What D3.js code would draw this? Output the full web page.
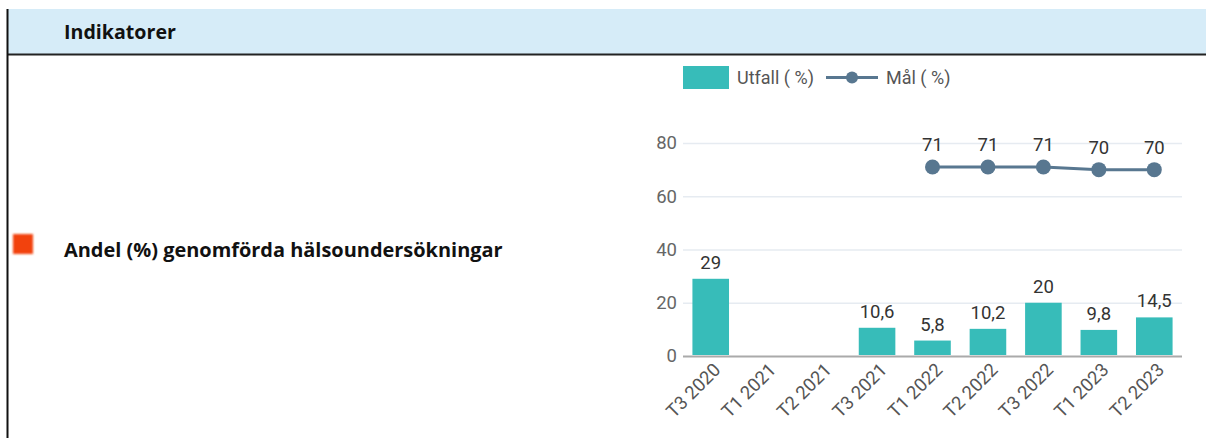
<!DOCTYPE html>
<html>
<head>
<meta charset="utf-8">
<script src="https://cdn.jsdelivr.net/npm/d3@7"></script>
<style>
html,body{margin:0;padding:0;background:#fff;}
svg{display:block;}
</style>
</head>
<body>
<svg id="c" width="1206" height="438"></svg>
<script>
const categories = ["T3 2020","T1 2021","T2 2021","T3 2021","T1 2022","T2 2022","T3 2022","T1 2023","T2 2023"];
const utfall = [29, null, null, 10.6, 5.8, 10.2, 20, 9.8, 14.5];
const mal = [null, null, null, null, 71, 71, 71, 70, 70];
const yTicks = [0, 20, 40, 60, 80];
const headerTitle = "Indikatorer";
const indicatorName = "Andel (%) genomförda hälsoundersökningar";
const legendLabels = ["Utfall ( %)", "Mål ( %)"];

const fmt = v => String(v).replace(".", ",");
const svg = d3.select("#c");

// header band
svg.append("rect").attr("x", 7).attr("y", 9).attr("width", 1199).attr("height", 45).attr("fill", "#d6ecf8");
svg.append("line").attr("x1", 7).attr("x2", 1206).attr("y1", 54.5).attr("y2", 54.5).attr("stroke", "#222").attr("stroke-width", 2);
svg.append("line").attr("x1", 7.5).attr("x2", 7.5).attr("y1", 9).attr("y2", 438).attr("stroke", "#111").attr("stroke-width", 2);

function fitText(sel, w) {
  const l = sel.node().getComputedTextLength();
  const fs = parseFloat(sel.attr("font-size"));
  sel.attr("font-size", fs * w / l);
}
const t1 = svg.append("text").attr("x", 64).attr("y", 39).attr("font-family", "'Open Sans', sans-serif")
  .attr("font-weight", "bold").attr("font-size", 16).attr("fill", "#111").text(headerTitle);
fitText(t1, 112);

// indicator
const defs = svg.append("defs");
defs.append("filter").attr("id", "blur").append("feGaussianBlur").attr("stdDeviation", 0.8);
svg.append("rect").attr("x", 13).attr("y", 234).attr("width", 20).attr("height", 20).attr("fill", "#f2420f").attr("filter", "url(#blur)");
const t2 = svg.append("text").attr("x", 64).attr("y", 257).attr("font-family", "'Open Sans', sans-serif")
  .attr("font-weight", "bold").attr("font-size", 16).attr("fill", "#111").text(indicatorName);
fitText(t2, 439);

// chart
const x = d3.scaleBand().domain(categories).range([683, 1182]).paddingInner(0.34).paddingOuter(0.17);
const y = d3.scaleLinear().domain([0, 80]).range([356, 143]);
const teal = "#37bcb9", navy = "#587790";
const FONT = "Roboto, sans-serif";

const g = svg.append("g");
// gridlines
g.append("g").attr("transform", "translate(683,0)")
  .call(d3.axisLeft(y).tickValues(yTicks).tickSize(-499).tickFormat(d => d))
  .call(a => a.select(".domain").remove())
  .call(a => a.selectAll(".tick line").attr("stroke", d => d === 0 ? "#aaa" : "#e6ebf1").attr("stroke-width", d => d === 0 ? 2 : 1.5))
  .call(a => a.selectAll(".tick text").attr("x", -6).attr("font-family", FONT).attr("font-size", 18.5).attr("fill", "#666"));

// bars
const bd = categories.map((c, i) => ({c, v: utfall[i]})).filter(d => d.v != null);
g.selectAll(".bar").data(bd).join("rect").attr("class", "bar")
  .attr("x", d => x(d.c)).attr("width", x.bandwidth())
  .attr("y", d => y(d.v)).attr("height", d => y(0) - y(d.v) - 1)
  .attr("fill", teal);
g.selectAll(".blab").data(bd).join("text").attr("class", "blab")
  .attr("x", d => x(d.c) + x.bandwidth() / 2).attr("y", d => y(d.v) - 10)
  .attr("text-anchor", "middle").attr("font-family", FONT).attr("font-size", 18.5).attr("fill", "#333")
  .text(d => fmt(d.v));

// x axis
g.append("g").attr("transform", "translate(0,357)")
  .call(d3.axisBottom(x).tickSize(0).tickPadding(0))
  .call(a => a.select(".domain").remove())
  .call(a => a.selectAll(".tick text").attr("text-anchor", "end").attr("dy", 0).attr("y", 0)
    .attr("transform", "translate(11,14) rotate(-45)")
    .attr("font-family", FONT).attr("font-size", 18.5).attr("fill", "#555"));

// line
const ld = categories.map((c, i) => ({c, v: mal[i]})).filter(d => d.v != null);
const cx = d => x(d.c) + x.bandwidth() / 2;
g.append("path").datum(ld).attr("fill", "none").attr("stroke", navy).attr("stroke-width", 3)
  .attr("d", d3.line().x(cx).y(d => y(d.v)));
g.selectAll(".dot").data(ld).join("circle").attr("cx", cx).attr("cy", d => y(d.v)).attr("r", 7.5).attr("fill", navy);
g.selectAll(".llab").data(ld).join("text")
  .attr("x", cx).attr("y", d => y(d.v) - 16)
  .attr("text-anchor", "middle").attr("font-family", FONT).attr("font-size", 18.5).attr("fill", "#333")
  .text(d => fmt(d.v));

// legend
const lg = svg.append("g");
lg.append("rect").attr("x", 683).attr("y", 66).attr("width", 46).attr("height", 23).attr("fill", teal);
lg.append("text").attr("x", 737).attr("y", 84).attr("font-family", FONT).attr("font-size", 18).attr("fill", "#555").text(legendLabels[0]);
lg.append("line").attr("x1", 826).attr("x2", 878).attr("y1", 77.5).attr("y2", 77.5).attr("stroke", navy).attr("stroke-width", 3);
lg.append("circle").attr("cx", 852).attr("cy", 77.5).attr("r", 6).attr("fill", navy);
lg.append("text").attr("x", 886).attr("y", 84).attr("font-family", FONT).attr("font-size", 18).attr("fill", "#555").text(legendLabels[1]);
</script>
</body>
</html>
